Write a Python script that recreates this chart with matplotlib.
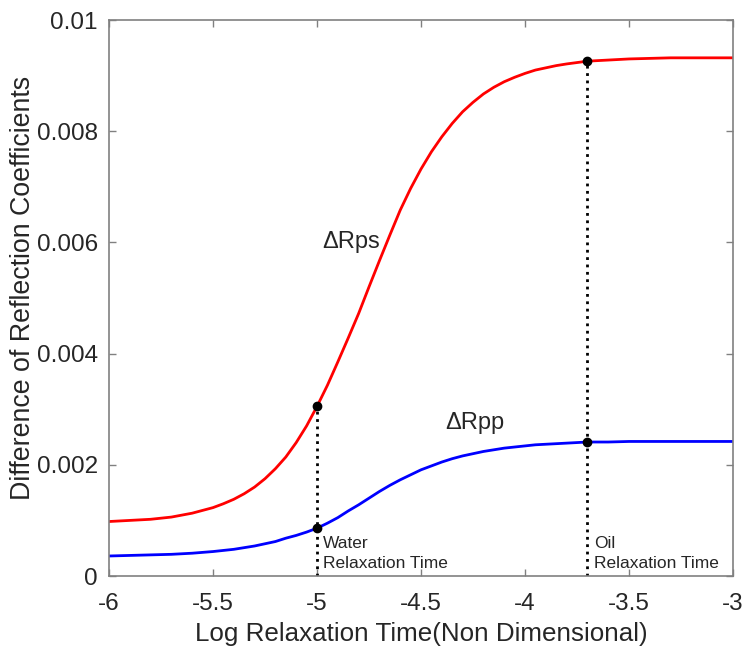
import numpy as np
import matplotlib.pyplot as plt

plt.rcParams['font.family'] = ['Liberation Sans', 'DejaVu Sans']

# log relaxation time samples (denser where the curves bend)
log_tau = [-6.0, -5.9, -5.8, -5.7, -5.6, -5.5, -5.45, -5.4, -5.35, -5.3, -5.25,
           -5.2, -5.15, -5.1, -5.05, -5.0, -4.95, -4.9, -4.85, -4.8, -4.75,
           -4.7, -4.65, -4.6, -4.55, -4.5, -4.45, -4.4, -4.35, -4.3, -4.25,
           -4.2, -4.15, -4.1, -4.05, -4.0, -3.95, -3.9, -3.85, -3.8, -3.7,
           -3.6, -3.5, -3.4, -3.3, -3.2, -3.1, -3.0]

# values
d_rps = [0.00098, 0.00100, 0.00102, 0.00106, 0.00113, 0.00123, 0.00130, 0.00138,
         0.00148, 0.00160, 0.00175, 0.00193, 0.00214, 0.00240, 0.00270, 0.00305,
         0.00343, 0.00385, 0.00428, 0.00472, 0.00520, 0.00567, 0.00613, 0.00658,
         0.00697, 0.00732, 0.00763, 0.00790, 0.00814, 0.00835, 0.00852, 0.00867,
         0.00879, 0.00889, 0.00897, 0.00904, 0.00910, 0.00914, 0.00918, 0.00921,
         0.00926, 0.00928, 0.00930, 0.00931, 0.00932, 0.00932, 0.00932, 0.00932]
d_rpp = [0.00036, 0.00037, 0.00038, 0.00039, 0.00041, 0.00044, 0.00046, 0.00048,
         0.00051, 0.00054, 0.00058, 0.00062, 0.00068, 0.00073, 0.00079, 0.00086,
         0.00095, 0.00105, 0.00117, 0.00128, 0.00140, 0.00152, 0.00163, 0.00173,
         0.00182, 0.00191, 0.00198, 0.00205, 0.00211, 0.00216, 0.00220, 0.00224,
         0.00227, 0.00230, 0.00232, 0.00234, 0.00236, 0.00237, 0.00238, 0.00239,
         0.00241, 0.00241, 0.00242, 0.00242, 0.00242, 0.00242, 0.00242, 0.00242]

water_x = -5.0
water_y = [0.00305, 0.00086]
oil_x = -3.7
oil_y = [0.00926, 0.00241]

fig = plt.figure(figsize=(7.47, 6.48), dpi=100)
ax = fig.add_axes([0.1459, 0.1111, 0.8354, 0.858])

ax.plot(log_tau, d_rps, color='#ff0000', lw=2, solid_joinstyle='round')
ax.plot(log_tau, d_rpp, color='#0000ff', lw=2, solid_joinstyle='round')

for xv, ys in [(water_x, water_y), (oil_x, oil_y)]:
    ax.plot([xv, xv], [0, max(ys)], 'k:', lw=2)
    ax.plot([xv] * len(ys), ys, 'ko', ms=6)

ax.text(-4.975, 0.0060, '\u0394Rps', fontsize=17, va='center', color='#262626')
ax.text(-4.385, 0.00275, '\u0394Rpp', fontsize=17, va='center', color='#262626')
ax.text(-4.97, 0.00059, 'Water', fontsize=12.5, va='center', color='#262626')
ax.text(-4.97, 0.00023, 'Relaxation Time', fontsize=12.5, va='center', color='#262626')
ax.text(-3.67, 0.00059, 'Oil', fontsize=12.5, va='center', color='#262626')
ax.text(-3.67, 0.00023, 'Relaxation Time', fontsize=12.5, va='center', color='#262626')

ax.set_xlim(-6, -3)
ax.set_ylim(0, 0.01)
ax.set_xticks([-6, -5.5, -5, -4.5, -4, -3.5, -3])
ax.set_xticklabels(['-6', '-5.5', '-5', '-4.5', '-4', '-3.5', '-3'])
ax.set_yticks([0, 0.002, 0.004, 0.006, 0.008, 0.01])
ax.set_yticklabels(['0', '0.002', '0.004', '0.006', '0.008', '0.01'])
ax.tick_params(direction='in', top=True, right=True, length=5, width=1,
               color='#808080', labelsize=17.5, labelcolor='#262626')
ax.tick_params(axis='x', pad=12)
ax.tick_params(axis='y', pad=8)
for s in ax.spines.values():
    s.set_color('#808080')
    s.set_linewidth(1.2)

ax.set_xlabel('Log Relaxation Time(Non Dimensional)', fontsize=18.7, color='#262626',
              labelpad=5)
ax.set_ylabel('Difference of Reflection Coefficients', fontsize=19.3, color='#262626',
              va='center')
ax.yaxis.set_label_coords(-0.138, 0.519)

fig.savefig('out.png', dpi=100)
